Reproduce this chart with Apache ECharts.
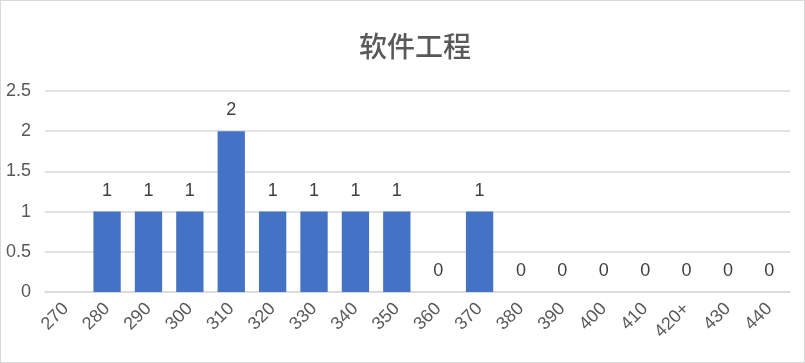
<!DOCTYPE html>
<html><head><meta charset="utf-8">
<script src="https://cdn.jsdelivr.net/npm/echarts@6/dist/echarts.min.js"></script>
<style>html,body{margin:0;padding:0;background:#fff}#c{position:absolute;left:0;top:0;width:803px;height:361px;border:1px solid #d9d9d9}</style>
</head><body><div id="c"></div>
<script>
const titleText = "软件工程";
const categories = ["270","280","290","300","310","320","330","340","350","360","370","380","390","400","410","420+","430","440"];
const values = [null,1,1,1,2,1,1,1,1,0,1,0,0,0,0,0,0,0];
const yTicks = {min:0, max:2.5, interval:0.5};
const chart = echarts.init(document.getElementById('c'));
chart.setOption({
  animation:false,
  title:{text:titleText,left:409,textAlign:'center',top:26,textStyle:{fontFamily:'Noto Sans CJK SC',fontSize:28,fontWeight:500,color:'#595959'}},
  grid:{left:44,right:14,top:90,bottom:70},
  xAxis:{type:'category',data:categories,axisTick:{show:false},axisLine:{lineStyle:{color:'#d9d9d9',width:1.5}},
    axisLabel:{rotate:45,interval:0,fontFamily:'Liberation Sans',fontSize:18,color:'#595959',margin:14}},
  yAxis:{type:'value',min:yTicks.min,max:yTicks.max,interval:yTicks.interval,axisLine:{show:false},axisTick:{show:false},
    splitLine:{lineStyle:{color:'#d9d9d9',width:1.5}},
    axisLabel:{fontFamily:'Liberation Sans',fontSize:18,color:'#595959',margin:14}},
  series:[{type:'bar',data:values,barWidth:'66%',itemStyle:{color:'#4472c4'},
    label:{show:true,position:'top',distance:12,fontFamily:'Liberation Sans',fontSize:18,color:'#404040'}}]
});
</script></body></html>
